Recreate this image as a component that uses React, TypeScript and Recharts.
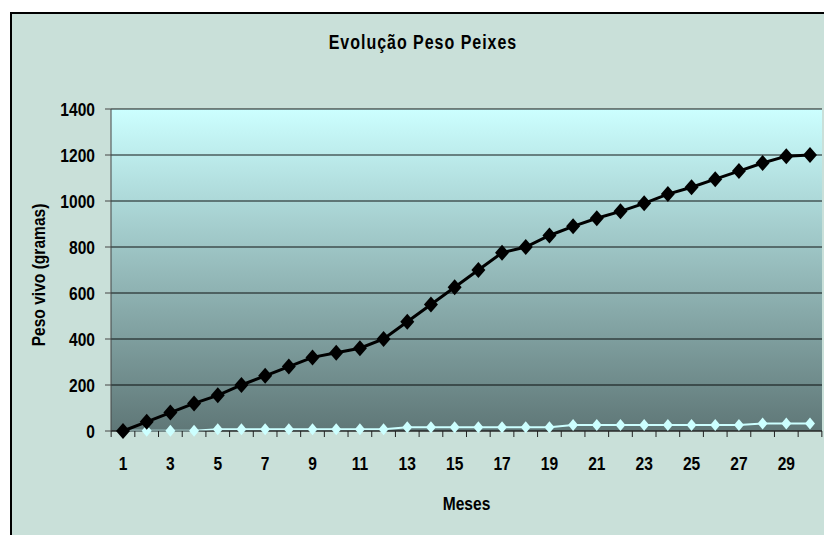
import { CartesianGrid, Label, Line, LineChart, XAxis, YAxis } from "recharts";

// meses 1..30
const meses = [
  1, 2, 3, 4, 5, 6, 7, 8, 9, 10, 11, 12, 13, 14, 15,
  16, 17, 18, 19, 20, 21, 22, 23, 24, 25, 26, 27, 28, 29, 30,
];

// peso vivo (gramas) - serie preta
const pesoVivo = [
  0, 40, 80, 120, 155, 200, 240, 280, 320, 340, 360, 400, 475, 550, 625,
  700, 775, 800, 850, 890, 925, 955, 990, 1030, 1060, 1095, 1130, 1165, 1195, 1200,
];

// serie clara (quase zero)
const serieClara = [
  1, 1, 1, 1, 8, 8, 8, 8, 8, 8, 8, 8, 16, 16, 16,
  16, 16, 16, 16, 26, 26, 26, 26, 26, 26, 26, 26, 33, 33, 33,
];

const yTicks = [0, 200, 400, 600, 800, 1000, 1200, 1400];

const data = meses.map((mes, i) => ({
  mes,
  peso: pesoVivo[i],
  clara: serieClara[i],
}));

// sem Arial Narrow: Liberation Sans bold apertada na horizontal
const FONT = "'Liberation Sans', Arial, sans-serif";
const NARROW = 0.82;
const HALF_STEP = 11.85;

const Narrow = ({ x, y, size = 19, anchor = "middle", rotate = 0, children }: any) => (
  <text
    transform={`translate(${x} ${y}) rotate(${rotate}) scale(${NARROW} 1)`}
    textAnchor={anchor}
    fontFamily={FONT}
    fontWeight="bold"
    fontSize={size}
    fill="#000"
  >
    {children}
  </text>
);

const diamond = (w: number, h: number, fill: string) => (props: any) => {
  const { cx, cy, index } = props;
  return (
    <path
      key={`d-${fill}-${index}`}
      d={`M${cx},${cy - h} L${cx + w},${cy} L${cx},${cy + h} L${cx - w},${cy} Z`}
      fill={fill}
    />
  );
};

const MesTick = (props: any) => {
  const { x, y, payload, index } = props;
  const top = y - 6;
  return (
    <g>
      <line x1={x - HALF_STEP} x2={x - HALF_STEP} y1={top} y2={top + 6} stroke="#222" />
      {index === meses.length - 1 && (
        <line x1={x + HALF_STEP} x2={x + HALF_STEP} y1={top} y2={top + 6} stroke="#222" />
      )}
      {payload.value % 2 === 1 && (
        <Narrow x={x} y={y + 33}>
          {payload.value}
        </Narrow>
      )}
    </g>
  );
};

const PesoTick = (props: any) => {
  const { x, y, payload } = props;
  return (
    <Narrow x={x} y={y + 6.5} anchor="end">
      {payload.value}
    </Narrow>
  );
};

export default function App() {
  return (
    <div style={{ position: "absolute", left: 0, top: 0, width: 824, height: 535, overflow: "hidden", fontFamily: FONT }}>
      <div
        style={{
          position: "absolute",
          left: 10,
          top: 12,
          width: 900,
          height: 600,
          border: "2px solid #000",
          background: "#c9e0d9",
        }}
      />
      <div
        style={{
          position: "absolute",
          left: 0,
          top: 30,
          width: 846,
          textAlign: "center",
          fontWeight: "bold",
          fontSize: 19.5,
          lineHeight: "24px",
          color: "#000",
        }}
      >
        <span style={{ display: "inline-block", transform: `scaleX(${NARROW})`, letterSpacing: 1.2 }}>
          Evolução Peso Peixes
        </span>
      </div>
      <div style={{ position: "absolute", left: 0, top: 0 }}>
        <LineChart width={824} height={535} data={data} margin={{ top: 109, right: 2, bottom: 74, left: 51 }}>
          <defs>
            <linearGradient id="fundo" x1="0" y1="0" x2="0" y2="1">
              <stop offset="0%" stopColor="#ccffff" />
              <stop offset="100%" stopColor="#5f7777" />
            </linearGradient>
          </defs>
          <CartesianGrid vertical={false} fill="url(#fundo)" fillOpacity={1} stroke="#000" strokeOpacity={0.9} />
          <XAxis
            dataKey="mes"
            interval={0}
            tickLine={false}
            tickSize={6}
            tickMargin={0}
            padding={{ left: 12, right: 12 }}
            height={30}
            axisLine={{ stroke: "#333" }}
            tick={<MesTick />}
          >
            <Label
              content={(p: any) => (
                <Narrow x={p.viewBox.x + p.viewBox.width / 2} y={510}>
                  Meses
                </Narrow>
              )}
            />
          </XAxis>
          <XAxis xAxisId="topo" orientation="top" dataKey="mes" tick={false} tickLine={false} height={0} axisLine={{ stroke: "#8a8a8a" }} />
          <YAxis
            domain={[0, 1400]}
            ticks={yTicks}
            width={60}
            tickSize={6}
            tickMargin={10}
            axisLine={{ stroke: "#444" }}
            tickLine={{ stroke: "#444" }}
            tick={<PesoTick />}
          >
            <Label
              content={() => (
                <Narrow x={45} y={275} rotate={-90}>
                  Peso vivo (gramas)
                </Narrow>
              )}
            />
          </YAxis>
          <YAxis yAxisId="dir" orientation="right" domain={[0, 1400]} tick={false} tickLine={false} width={0} axisLine={{ stroke: "#8a8a8a" }} />
          <Line
            dataKey="clara"
            stroke="#ccffff"
            strokeWidth={2}
            dot={diamond(5, 6, "#ccffff")}
            activeDot={false}
            isAnimationActive={false}
          />
          <Line
            dataKey="peso"
            stroke="#000"
            strokeWidth={3}
            dot={diamond(7, 8, "#000")}
            activeDot={false}
            isAnimationActive={false}
          />
        </LineChart>
      </div>
    </div>
  );
}
